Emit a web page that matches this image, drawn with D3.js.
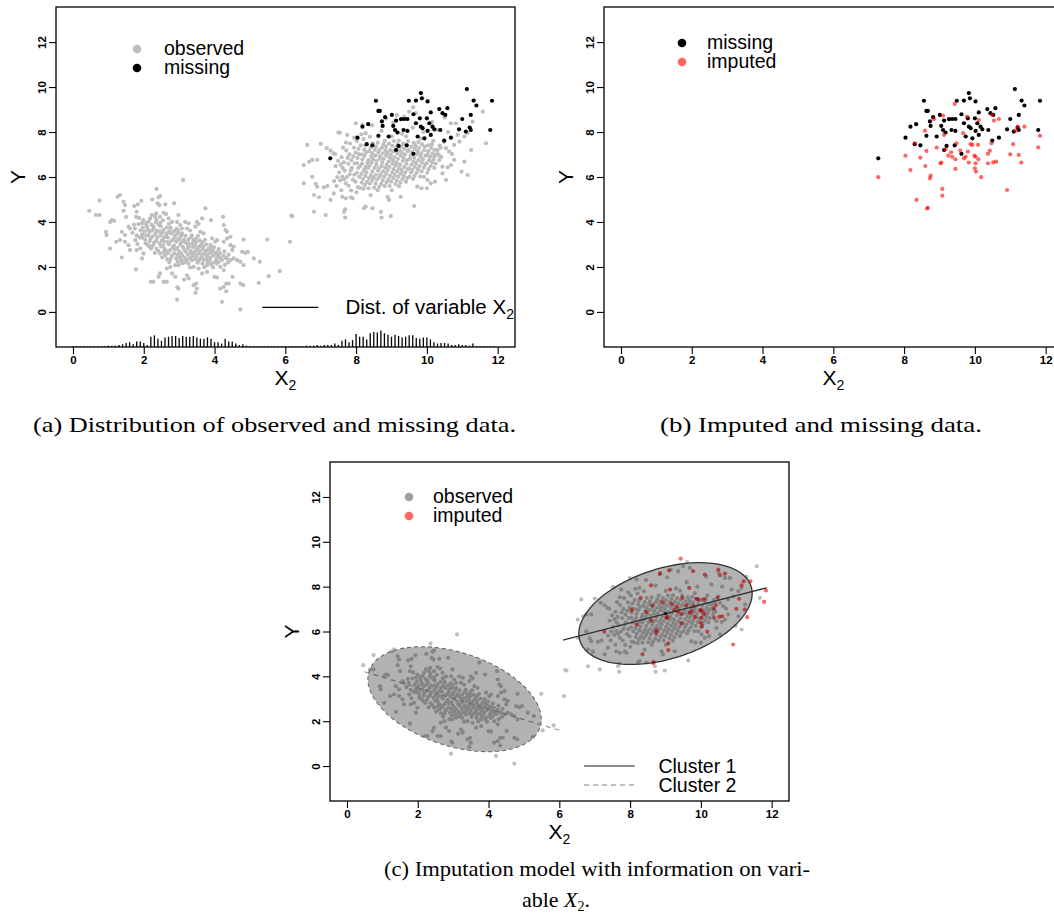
<!DOCTYPE html>
<html><head><meta charset="utf-8">
<script src="https://cdn.jsdelivr.net/npm/d3@7"></script>
<style>body{margin:0;background:#fff}svg{display:block}</style>
</head><body>
<svg id="chart" width="1054" height="922"></svg>
<script>
// ---------------- data ----------------
const xTicks = [0, 2, 4, 6, 8, 10, 12];
const yTicks = [0, 2, 4, 6, 8, 10, 12];

// observed points, cluster 2 (left, negative slope)
const observedLeft = [
[3.11,5.87],[2.36,5.47],[1.33,5.2],[1.26,5.12],[0.75,4.95],[0.46,4.5],[0.65,4.31],[0.75,4.31],[1.43,4.9],[1.47,4.75],
[1.73,4.71],[1.83,4.78],[1.93,4.94],[2.24,5.0],[2.42,5.1],[2.46,5.15],[2.39,4.83],[2.44,4.75],[2.61,4.78],[2.86,4.83],
[1.8,4.45],[1.78,4.23],[1.43,4.5],[1.5,4.23],[1.1,4.08],[1.16,4.05],[1.05,4.0],[0.93,3.56],[0.95,3.42],[1.05,2.82],
[1.38,2.42],[1.22,3.12],[1.33,3.19],[1.47,3.12],[1.57,2.97],[1.61,2.75],[1.38,3.56],[1.47,3.42],[1.57,3.79],[1.61,3.71],
[1.78,1.89],[1.95,2.38],[1.99,2.6],[1.8,2.75],[1.9,2.82],[1.76,3.19],[1.82,3.02],[1.95,3.94],[1.99,4.08],[2.07,3.86],
[2.12,3.67],[2.18,4.16],[2.23,4.31],[2.32,4.23],[2.35,4.38],[2.46,4.23],[2.56,4.41],[2.63,4.35],[2.7,4.16],[2.8,4.0],
[2.98,4.31],[2.94,4.0],[3.03,3.86],[3.08,3.71],[3.17,4.0],[3.27,3.94],[3.22,3.71],[3.5,4.0],[3.55,3.91],[3.46,3.79],
[3.65,4.16],[3.74,4.61],[3.6,3.56],[3.69,3.49],[3.9,4.08],[4.24,4.23],[4.26,3.86],[4.31,3.64],[4.35,3.56],[3.93,3.27],
[4.02,3.12],[4.07,3.19],[4.26,3.12],[4.35,3.27],[4.45,3.34],[4.45,2.97],[4.54,2.9],[4.5,2.75],[4.82,3.22],[4.78,2.67],
[4.87,2.63],[4.94,2.67],[4.54,2.38],[4.64,2.3],[4.73,2.23],[4.82,2.08],[5.11,2.38],[5.28,2.23],[5.49,3.22],[6.13,3.12],
[6.17,4.28],[5.53,1.59],[5.84,1.81],[5.25,1.29],[4.81,1.19],[4.73,1.26],[4.51,1.56],[4.4,1.26],[4.33,1.26],[4.26,1.11],
[4.16,1.04],[4.33,0.92],[4.21,0.45],[4.73,0.11],[4.0,1.56],[4.07,1.53],[3.96,1.98],[3.79,1.78],[3.65,1.71],[3.48,1.26],
[3.41,1.19],[3.5,1.04],[3.46,0.85],[2.94,0.55],[2.95,1.09],[2.98,1.04],[3.27,1.49],[3.22,1.63],[3.14,1.44],[2.89,1.56],
[2.8,1.71],[2.56,1.34],[2.65,1.34],[2.2,1.34],[2.27,1.34],[2.42,1.56],[2.46,1.71],[2.65,1.93],[2.75,2.0],[2.89,2.08],
[2.98,2.08],[3.08,2.16],[3.17,2.23],[3.41,2.0],[3.55,1.93],[3.79,2.08],[3.93,2.16],[4.02,2.23],[4.16,2.0],[4.26,1.86],
[4.35,2.38],[4.45,2.3],
[1.68,3.52],[1.72,3.88],[1.88,3.31],[1.91,3.63],[1.87,4.18],[2.04,3.21],[2.02,3.58],[2.11,2.98],[2.13,3.41],[2.09,3.79],
[2.14,4.02],[2.21,2.81],[2.19,3.27],[2.24,3.62],[2.31,2.62],[2.29,3.08],[2.33,3.47],[2.28,3.73],[2.34,3.98],[2.41,2.71],
[2.38,3.29],[2.43,3.88],[2.52,2.43],[2.49,2.91],[2.51,3.18],[2.53,3.52],[2.48,3.81],[2.54,4.07],[2.61,2.52],[2.59,2.79],
[2.63,3.38],[2.72,2.21],[2.69,2.62],[2.71,3.01],[2.68,3.31],[2.73,3.59],[2.71,3.92],[2.79,2.49],[2.82,2.88],[2.78,3.48],
[2.91,2.38],[2.88,2.79],[2.92,3.12],[2.89,3.41],[2.93,3.69],[3.02,2.42],[2.99,2.71],[3.03,2.99],[3.01,3.28],[2.98,3.61],
[3.12,2.19],[3.09,2.52],[3.11,2.88],[3.13,3.21],[3.08,3.49],[3.21,2.31],[3.19,2.68],[3.23,3.02],[3.31,1.98],[3.29,2.39],
[3.32,2.71],[3.28,3.01],[3.33,3.31],[3.31,3.62],[3.42,2.61],[3.39,2.88],[3.41,3.19],[3.52,2.19],[3.49,2.48],[3.51,2.81],
[3.48,3.11],[3.53,3.38],[3.61,2.39],[3.59,2.71],[3.62,2.98],[3.71,1.99],[3.69,2.31],[3.72,2.59],[3.68,2.91],[3.73,3.21],
[3.81,2.21],[3.79,2.49],[3.82,2.79],[3.91,2.09],[3.88,2.41],[3.92,2.68],[3.89,2.98],[4.02,2.59],[3.98,2.88],[4.11,2.21],
[4.09,2.48],[4.12,2.79],[4.21,2.31],[4.29,2.09],[4.31,2.41],[4.28,2.69],
[2.58,3.12],[2.83,3.21],[3.18,3.38],[3.38,2.48],[3.58,3.18],[2.45,3.58],[2.22,3.88],[2.95,2.55],[3.25,2.85],[3.65,2.55],
[4.05,2.35],[1.95,3.45],[2.65,3.75],[3.45,2.95],
[1.75,3.7],[1.8,3.4],[1.85,3.9],[1.96,3.3],[1.97,3.75],[2.05,3.05],[2.06,3.4],[2.07,3.95],[2.16,2.9],[2.17,3.15],
[2.16,3.55],[2.26,2.95],[2.25,3.35],[2.27,3.8],[2.36,2.8],[2.35,3.15],[2.37,3.6],[2.36,4.1],[2.46,2.6],[2.45,3.05],
[2.47,3.4],[2.46,3.95],[2.56,2.65],[2.55,2.95],[2.57,3.3],[2.56,3.65],[2.66,2.35],[2.65,2.7],[2.67,3.1],[2.66,3.5],
[2.76,2.35],[2.75,2.75],[2.77,3.15],[2.76,3.75],[2.86,2.6],[2.85,2.95],[2.87,3.3],[2.86,3.6],[2.96,2.25],[2.95,2.85],
[2.97,3.2],[2.96,3.5],[3.06,2.3],[3.05,2.6],[3.07,3.1],[3.06,3.4],[3.16,2.4],[3.15,2.75],[3.17,3.1],[3.26,2.15],
[3.25,2.55],[3.27,2.9],[3.26,3.2],[3.36,2.3],[3.35,2.6],[3.37,3.05],[3.36,3.4],[3.46,2.35],[3.45,2.7],[3.47,3.25],
[3.56,2.3],[3.55,2.6],[3.57,2.9],[3.66,2.15],[3.65,2.45],[3.67,2.8],[3.66,3.1],[3.76,2.35],[3.75,2.7],[3.77,3.0],
[3.86,2.3],[3.85,2.6],[3.87,2.85],[3.96,2.5],[3.95,2.75],[4.06,2.15],[4.05,2.65],[4.16,2.4],[4.15,2.6],[4.26,2.5],
[4.38,2.2],[4.4,2.55]
];

// observed points, cluster 1 (right, positive slope)
const observedRight = [
[6.2,4.26],[6.81,4.45],[7.14,4.31],[7.66,4.45],[7.69,4.2],[6.52,5.72],[6.76,6.01],[6.86,5.69],[6.52,6.53],[6.67,6.68],
[6.76,6.76],[6.9,6.76],[6.62,7.43],[7.0,7.47],[7.17,7.28],[7.28,7.17],[7.36,7.05],[7.54,7.97],[7.75,7.87],[7.71,7.53],
[7.99,8.39],[8.18,8.32],[8.27,7.95],[6.9,5.57],[7.09,5.54],[7.19,5.6],[6.81,5.2],[6.95,5.1],[7.28,4.98],[7.37,5.27],
[7.61,5.12],[7.71,5.05],[7.85,5.1],[7.9,5.05],[8.22,4.61],[8.27,4.68],[8.46,4.61],[8.7,4.45],[8.72,4.2],[8.98,4.26],
[8.89,5.12],[8.93,4.98],[9.26,5.12],[9.64,4.71],[9.73,5.57],[9.85,5.5],[10.0,5.5],[10.23,5.79],[10.44,6.46],[10.59,6.43],
[10.68,6.53],[10.77,6.76],[10.98,6.24],[11.06,6.68],[11.15,6.09],[11.25,7.2],[11.67,7.5],[11.58,8.91],[11.06,7.8],[11.15,7.95],
[10.87,7.87],[10.92,7.57],[10.77,7.43],[10.68,8.39],[10.82,8.39],[11.29,8.46],[10.49,7.57],[10.54,7.28],[10.63,7.13],[10.3,7.2],
[10.21,6.9],[10.35,6.76],[10.44,6.16],[10.54,5.87],[9.92,6.01],[10.02,5.87],[10.11,5.72],[9.69,8.84],[9.36,8.69],[9.5,8.91],
[9.61,9.1],[7.5,7.98],[10.71,7.02],[7.69,4.56],
[7.38,5.82],[7.42,6.48],[7.41,7.02],[7.52,6.21],[7.49,6.72],[7.58,5.41],[7.61,6.02],[7.62,6.41],[7.59,6.88],[7.63,7.31],
[7.71,5.72],[7.68,6.28],[7.72,7.18],[7.79,5.61],[7.82,6.12],[7.78,6.59],[7.81,7.01],[7.83,7.49],[7.91,5.88],[7.88,6.41],
[7.92,6.92],[8.01,5.32],[7.98,5.79],[8.02,6.19],[8.03,6.62],[7.99,7.08],[8.02,7.61],[8.11,5.52],[8.09,6.01],[8.12,6.49],
[8.08,7.02],[8.13,7.41],[8.21,5.48],[8.19,5.91],[8.22,6.31],[8.18,6.79],[8.23,7.22],[8.21,7.69],[8.31,5.78],[8.29,6.21],
[8.32,6.62],[8.28,7.09],[8.41,5.19],[8.39,5.71],[8.42,6.09],[8.38,6.51],[8.43,6.91],[8.41,7.31],[8.39,7.79],[8.51,5.52],
[8.49,5.98],[8.52,6.41],[8.48,6.79],[8.53,7.21],[8.61,5.41],[8.59,5.88],[8.62,6.29],[8.58,6.71],[8.63,7.09],[8.61,7.52],
[8.71,5.69],[8.69,6.12],[8.72,6.49],[8.68,6.92],[8.73,7.31],[8.81,5.59],[8.79,6.01],[8.82,6.42],[8.78,6.81],[8.83,7.19],
[8.81,7.61],[8.91,5.88],[8.89,6.31],[8.92,6.69],[8.88,7.09],[8.93,7.49],[9.01,5.41],[8.99,5.79],[9.02,6.21],[9.03,6.59],
[8.98,7.01],[9.02,7.39],[9.01,7.81],[9.11,5.69],[9.09,6.09],[9.12,6.51],[9.08,6.89],[9.13,7.31],[9.21,5.59],[9.19,6.02],
[9.22,6.39],[9.18,6.81],[9.23,7.19],[9.21,7.62],[9.31,5.91],[9.29,6.31],[9.32,6.72],[9.28,7.09],[9.33,7.49],[9.41,5.79],
[9.39,6.21],[9.42,6.59],[9.38,7.01],[9.43,7.41],[9.41,7.81],[9.51,6.02],[9.49,6.39],[9.52,6.81],[9.48,7.21],[9.61,5.91],
[9.59,6.31],[9.62,6.69],[9.58,7.11],[9.63,7.52],[9.71,6.19],[9.69,6.61],[9.72,7.02],[9.68,7.39],[9.81,6.02],[9.79,6.49],
[9.82,6.91],[9.78,7.29],[9.83,7.71],[9.91,6.41],[9.89,6.79],[9.92,7.19],[10.01,6.19],[9.99,6.61],[10.02,6.99],[10.03,7.41],
[10.11,6.49],[10.09,6.91],[10.12,7.29],[10.21,6.41],[10.19,6.79],[10.22,7.21],[10.18,7.61],[10.31,7.02],[10.41,6.89],[10.39,7.31],
[8.45,8.3],[8.72,8.05],[9.05,8.42],[9.3,7.92],[9.6,8.2],[9.9,8.0],[10.3,8.1],[10.6,8.0],[8.15,7.9],[10.15,8.45],
[9.15,8.75],[8.85,8.6],[10.5,8.65],[7.95,7.75],
[7.45,5.6],[7.47,6.0],[7.55,5.85],[7.56,6.55],[7.66,5.9],[7.65,6.65],[7.74,6.0],[7.76,6.85],[7.86,5.4],[7.85,6.3],
[7.87,6.75],[7.95,6.1],[7.96,6.6],[7.94,7.3],[8.05,5.55],[8.06,6.4],[8.04,6.85],[8.07,7.25],[8.16,5.75],[8.15,6.15],
[8.17,6.6],[8.16,7.0],[8.25,5.65],[8.26,6.05],[8.27,6.45],[8.24,6.95],[8.26,7.4],[8.35,5.5],[8.36,5.95],[8.34,6.4],
[8.35,6.75],[8.37,7.15],[8.45,5.85],[8.46,6.25],[8.44,6.65],[8.46,7.05],[8.47,7.5],[8.55,5.7],[8.56,6.1],[8.57,6.55],
[8.55,6.95],[8.56,7.35],[8.65,5.55],[8.66,6.0],[8.65,6.4],[8.67,6.8],[8.66,7.2],[8.75,5.85],[8.76,6.25],[8.74,6.65],
[8.76,7.05],[8.77,7.45],[8.86,5.75],[8.85,6.15],[8.87,6.55],[8.86,6.95],[8.85,7.35],[8.95,5.6],[8.96,6.05],[8.94,6.45],
[8.96,6.85],[8.97,7.2],[9.05,5.95],[9.06,6.35],[9.04,6.75],[9.06,7.15],[9.07,7.6],[9.15,5.85],[9.16,6.25],[9.14,6.65],
[9.16,7.05],[9.17,7.45],[9.25,5.75],[9.26,6.15],[9.24,6.55],[9.26,6.95],[9.27,7.35],[9.35,6.05],[9.36,6.45],[9.34,6.85],
[9.36,7.25],[9.45,5.95],[9.46,6.35],[9.44,6.75],[9.46,7.15],[9.47,7.6],[9.55,6.2],[9.56,6.55],[9.54,6.95],[9.56,7.35],
[9.65,6.05],[9.66,6.45],[9.64,6.85],[9.66,7.25],[9.75,6.35],[9.76,6.75],[9.74,7.15],[9.76,7.55],[9.85,6.25],[9.86,6.65],
[9.84,7.05],[9.86,7.45],[9.95,6.55],[9.96,6.95],[9.94,7.35],[10.05,6.35],[10.06,6.75],[10.04,7.15],[10.15,6.65],[10.16,7.05],
[10.14,7.45],[10.25,6.6],[10.26,7.0],[10.35,6.95],[10.36,7.4]
];

// missing (true values of the incomplete cases)
const missing = [
[7.27,6.83],[8.04,7.75],[8.18,8.24],[8.34,8.35],[8.3,7.46],[8.46,7.41],[8.56,9.39],[8.63,8.94],[8.67,8.94],[8.63,7.83],
[8.73,8.47],[8.75,8.27],[8.82,8.66],[8.92,7.8],[9.01,8.76],[9.05,8.27],[9.1,8.09],[9.13,8.51],[9.17,7.98],[9.13,7.2],
[9.2,7.38],[9.27,8.57],[9.36,8.58],[9.45,8.58],[9.34,8.09],[9.45,8.05],[9.43,7.41],[9.49,9.39],[9.62,8.79],[9.62,7.03],
[9.69,9.4],[9.69,8.39],[9.74,7.8],[9.8,8.61],[9.83,9.73],[9.86,9.5],[9.83,8.24],[9.88,8.17],[9.93,7.72],[10.0,8.61],
[10.02,9.36],[10.02,8.05],[10.07,8.39],[10.11,7.87],[10.11,8.87],[10.16,8.24],[10.21,8.12],[10.35,9.02],[10.38,8.09],[10.44,8.84],
[10.52,8.76],[10.49,7.62],[10.58,9.06],[10.68,7.75],[10.91,8.12],[11.0,8.58],[11.1,8.02],[11.13,9.91],[11.21,8.2],[11.24,8.09],
[11.24,8.76],[11.32,9.4],[11.4,9.18],[11.79,8.09],[11.84,9.39]
];

// imputed values for the incomplete cases
const imputed = [
[7.27,5.99],[8.04,6.95],[8.18,6.31],[8.3,7.5],[8.35,4.98],[8.46,6.86],[8.59,8.06],[8.6,6.49],[8.63,7.16],[8.65,4.6],
[8.67,4.63],[8.73,5.94],[8.75,6.06],[8.84,8.57],[8.92,7.31],[9.03,6.61],[9.05,6.64],[9.08,5.47],[9.08,5.17],[9.1,8.73],
[9.13,7.87],[9.17,7.23],[9.25,6.95],[9.33,7.1],[9.36,6.9],[9.43,9.25],[9.45,6.79],[9.45,6.36],[9.48,7.5],[9.59,7.17],
[9.67,7.95],[9.69,6.83],[9.74,6.9],[9.78,8.69],[9.8,7.13],[9.83,6.64],[9.88,7.46],[9.93,7.43],[9.99,6.95],[10.02,6.9],
[10.02,6.61],[10.0,6.39],[10.03,6.24],[10.09,7.43],[10.1,6.79],[10.11,8.54],[10.18,5.99],[10.37,7.03],[10.42,7.17],[10.37,6.61],
[10.47,7.5],[10.49,8.76],[10.52,6.65],[10.6,6.68],[10.54,8.51],[10.68,8.58],[10.91,5.42],[11.0,7.01],[11.08,7.46],[11.15,8.06],
[11.21,8.24],[11.24,6.98],[11.31,6.64],[11.4,8.24],[11.79,7.32],[11.84,7.83]
];

// distribution of X2: counts per 0.1 bin starting at 0.0
const histStart = 0.0, histStep = 0.1;
const histCounts = [
0,0,0,0,1,0,1,1,0,1,
2,2,2,3,4,6,7,4,8,8,
6,3,15,17,12,9,14,15,16,16,
13,16,15,15,16,14,12,12,14,12,
7,7,5,12,8,8,5,3,4,2,
1,1,1,1,1,1,0,1,1,0,
1,1,0,0,1,1,2,2,2,3,
2,3,3,3,5,3,9,11,7,10,
19,15,15,11,20,22,21,24,20,18,
15,18,16,14,15,17,17,13,12,14,
14,11,7,5,6,6,5,3,3,4,
3,3,2,5,1,1,1,1,1,1
];

// imputation model: cluster ellipses (centre, shape matrix) and regression lines
const cluster1Ellipse = {center: [9.0, 6.8], shape: [[6.0, 2.2], [2.2, 5.15]]};
const cluster2Ellipse = {center: [3.04, 2.98], shape: [[6.0, -2.2], [-2.2, 5.48]]};
const cluster1Line = [[6.1, 5.61], [11.86, 7.95]];
const cluster2Line = [[0.5, 4.2], [6.08, 1.56]];

const captionA = "(a) Distribution of observed and missing data.";
const captionB = "(b) Imputed and missing data.";
const captionC1 = "(c) Imputation model with information on vari-";

// ---------------- drawing ----------------
const svg = d3.select("#chart");
svg.append("rect").attr("width", 1054).attr("height", 922).attr("fill", "#fff");
const SANS = "'Liberation Sans', Arial, Helvetica, sans-serif";
const SERIF = "'Liberation Serif', 'Times New Roman', serif";
const xDomain = [-0.48, 12.49], yDomain = [-1.56, 13.56];
const R = 2.1;

function makePanel(f) {
  const x = d3.scaleLinear().domain(xDomain).range([f.x0, f.x1]);
  const y = d3.scaleLinear().domain(yDomain).range([f.y1, f.y0]);
  const g = svg.append("g");
  return {x, y, g, f};
}

function drawPoints(p, data, fill, opacity) {
  p.g.append("g").selectAll("circle").data(data).join("circle")
    .attr("cx", d => p.x(d[0])).attr("cy", d => p.y(d[1])).attr("r", R)
    .attr("fill", fill).attr("fill-opacity", opacity);
}

function drawFrameAxes(p) {
  const f = p.f;
  p.g.append("rect").attr("x", f.x0).attr("y", f.y0).attr("width", f.x1 - f.x0).attr("height", f.y1 - f.y0)
    .attr("fill", "none").attr("stroke", "#000").attr("stroke-width", 1.3);
  const ax = p.g.append("g").attr("transform", `translate(0,${f.y1})`)
    .call(d3.axisBottom(p.x).tickValues(xTicks).tickSize(7).tickPadding(2).tickFormat(d3.format("d")));
  ax.select(".domain").remove();
  ax.selectAll("line").attr("stroke", "#000").attr("stroke-width", 1.1);
  ax.selectAll("text").attr("font-family", SANS).attr("font-size", 11.5).attr("font-weight", "bold").attr("fill", "#000");
  const ay = p.g.append("g").attr("transform", `translate(${f.x0},0)`)
    .call(d3.axisLeft(p.y).tickValues(yTicks).tickSize(7).tickFormat(d3.format("d")));
  ay.select(".domain").remove();
  ay.selectAll("line").attr("stroke", "#000").attr("stroke-width", 1.1);
  ay.selectAll("text").attr("font-family", SANS).attr("font-size", 11.5).attr("font-weight", "bold").attr("fill", "#000")
    .attr("transform", "rotate(-90)").attr("x", 0).attr("y", -10).attr("dy", 0).attr("text-anchor", "middle");
  // axis titles
  const xt = p.g.append("text").attr("x", p.x(6)).attr("y", f.y1 + 38).attr("text-anchor", "middle")
    .attr("font-family", SANS).attr("font-size", 21);
  xt.append("tspan").text("X");
  xt.append("tspan").attr("font-size", 14).attr("dy", 5).text("2");
  p.g.append("text").attr("transform", `translate(${f.x0 - 31},${(f.y0 + f.y1) / 2}) rotate(-90)`)
    .attr("text-anchor", "middle").attr("font-family", SANS).attr("font-size", 21).text("Y");
}

function pointLegend(p, items, dx, dy, tx) {
  const f = p.f;
  items.forEach((it, i) => {
    const cy = f.y0 + dy + i * 19;
    p.g.append("circle").attr("cx", f.x0 + dx).attr("cy", cy).attr("r", 4.3)
      .attr("fill", it.fill).attr("fill-opacity", it.opacity);
    p.g.append("text").attr("x", f.x0 + tx).attr("y", cy + 6).attr("font-family", SANS)
      .attr("font-size", 19.5).text(it.label);
  });
}

// ----- panel (a)
const pa = makePanel({x0: 56, x1: 515, y0: 7, y1: 347});
drawPoints(pa, observedLeft.concat(observedRight), "#bebebe", 1);
drawPoints(pa, missing, "#000", 1);
const hScale = d3.scaleLinear().domain([0, 24]).range([0, 16.5]);
pa.g.append("g").selectAll("line").data(histCounts).join("line")
  .attr("x1", (d, i) => pa.x(histStart + i * histStep)).attr("x2", (d, i) => pa.x(histStart + i * histStep))
  .attr("y1", pa.f.y1).attr("y2", d => pa.f.y1 - Math.max(hScale(d), 0.8))
  .attr("stroke", "#000").attr("stroke-width", 1.3);
drawFrameAxes(pa);
pointLegend(pa, [{label: "observed", fill: "#bebebe", opacity: 1}, {label: "missing", fill: "#000", opacity: 1}], 81, 42, 108);
pa.g.append("line").attr("x1", pa.x(5.35)).attr("x2", pa.x(6.93)).attr("y1", pa.y(0.2)).attr("y2", pa.y(0.2))
  .attr("stroke", "#000").attr("stroke-width", 1.4);
const dl = pa.g.append("text").attr("x", pa.x(7.7)).attr("y", pa.y(0.2) + 7).attr("font-family", SANS).attr("font-size", 20.5);
dl.append("tspan").text("Dist. of variable X");
dl.append("tspan").attr("font-size", 14).attr("dy", 5).text("2");

// ----- panel (b)
const pb = makePanel({x0: 604, x1: 1063, y0: 7, y1: 347});
drawPoints(pb, missing, "#000", 1);
drawPoints(pb, imputed, "#ff0000", 0.6);
drawFrameAxes(pb);
pointLegend(pb, [{label: "missing", fill: "#000", opacity: 1}, {label: "imputed", fill: "#ff0000", opacity: 0.6}], 78, 36, 103);

// ----- panel (c)
const pc = makePanel({x0: 330, x1: 789, y0: 462, y1: 801});
drawPoints(pc, observedLeft.concat(observedRight), "#bebebe", 1);
drawPoints(pc, imputed, "#ff0000", 0.6);
const line = d3.line().x(d => pc.x(d[0])).y(d => pc.y(d[1]));
pc.g.append("path").attr("d", line(cluster2Line)).attr("fill", "none").attr("stroke", "#9a9a9a")
  .attr("stroke-width", 1.2).attr("stroke-dasharray", "5,4");
function ellipsePath(e) {
  const a = Math.sqrt(e.shape[0][0]);
  const b = e.shape[0][1] / a;
  const c = Math.sqrt(e.shape[1][1] - b * b);
  const pts = d3.range(0, 361, 3).map(t => {
    const r = t * Math.PI / 180;
    return [e.center[0] + a * Math.cos(r), e.center[1] + b * Math.cos(r) + c * Math.sin(r)];
  });
  return line(pts) + "Z";
}
pc.g.append("path").attr("d", ellipsePath(cluster2Ellipse)).attr("fill", "#000").attr("fill-opacity", 0.3)
  .attr("stroke", "#6a6a6a").attr("stroke-width", 1.1).attr("stroke-dasharray", "4,3");
pc.g.append("path").attr("d", ellipsePath(cluster1Ellipse)).attr("fill", "#000").attr("fill-opacity", 0.3)
  .attr("stroke", "#333").attr("stroke-width", 1.3);
pc.g.append("path").attr("d", line(cluster1Line)).attr("fill", "none").attr("stroke", "#333").attr("stroke-width", 1.3);
pc.g.append("circle").attr("cx", pc.x(cluster1Ellipse.center[0])).attr("cy", pc.y(cluster1Ellipse.center[1]))
  .attr("r", 1.6).attr("fill", "#111");
drawFrameAxes(pc);
pointLegend(pc, [{label: "observed", fill: "#9e9e9e", opacity: 1}, {label: "imputed", fill: "#ff0000", opacity: 0.6}], 79, 35, 103);
[["Cluster 1", null, "#666", 0], ["Cluster 2", "5,4", "#aaa", 1]].forEach(([lab, dash, col, i]) => {
  const yy = pc.y(0) + i * 19;
  pc.g.append("line").attr("x1", pc.x(6.7)).attr("x2", pc.x(8.13)).attr("y1", yy).attr("y2", yy)
    .attr("stroke", col).attr("stroke-width", 1.6).attr("stroke-dasharray", dash);
  pc.g.append("text").attr("x", pc.x(8.8)).attr("y", yy + 7).attr("font-family", SANS).attr("font-size", 19.5).text(lab);
});

// ----- captions
function caption(txt, x0, x1, yb) {
  svg.append("text").attr("x", x0).attr("y", yb).attr("font-family", SERIF).attr("font-size", 22)
    .attr("textLength", x1 - x0).attr("lengthAdjust", "spacingAndGlyphs").text(txt);
}
caption(captionA, 33, 516, 432);
caption(captionB, 660, 982, 432);
caption(captionC1, 384, 810, 876);
const c2 = svg.append("text").attr("x", 556).attr("y", 907).attr("text-anchor", "middle")
  .attr("font-family", SERIF).attr("font-size", 22);
c2.append("tspan").text("able ");
c2.append("tspan").attr("font-style", "italic").text("X");
c2.append("tspan").attr("font-size", 14).attr("dy", 4).text("2");
c2.append("tspan").attr("dy", -4).text(".");
</script>
</body></html>
